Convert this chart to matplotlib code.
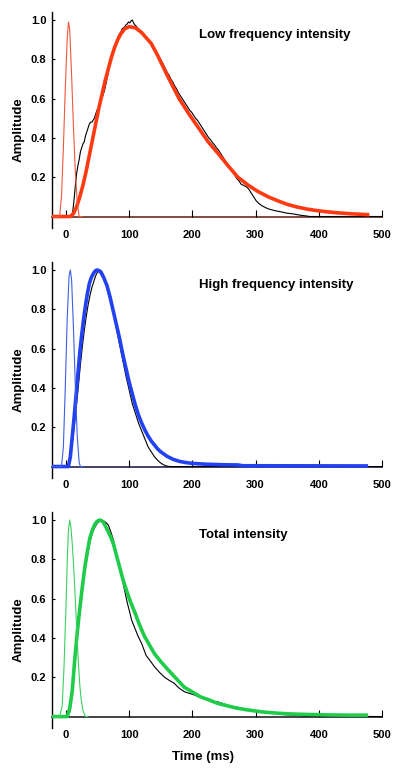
import matplotlib
matplotlib.use("Agg")
import matplotlib.pyplot as plt

plt.rcParams['font.family'] = ['Liberation Sans', 'DejaVu Sans']
plt.rcParams['font.weight'] = 'bold'

# ---------------- data (time in ms, normalised amplitude) ----------------
titles = ["Low frequency intensity", "High frequency intensity", "Total intensity"]
x_ticks = [0, 100, 200, 300, 400, 500]
y_ticks = [0.2, 0.4, 0.6, 0.8, 1.0]
y_tick_labels = ["0.2", "0.4", "0.6", "0.8", "1.0"]

# Panel 1 - low frequency
low_thin_t = [-22, -10, -7, -4, -1, 2, 4, 6, 9, 12, 15, 18, 21, 26]
low_thin_a = [0, 0, 0.10, 0.35, 0.65, 0.90, 0.99, 0.95, 0.72, 0.45, 0.22, 0.07, 0, 0]

low_fit_t = [-22, 7, 12, 17, 22, 27, 32, 37, 42, 47, 52, 57, 62, 67, 72, 77, 82, 87, 93, 100,
             110, 120, 135, 145, 160, 179, 195, 210, 225, 241, 256, 272, 288, 304, 320, 335,
             350, 366, 381, 397, 413, 429, 450, 480]
low_fit_a = [0, 0, 0.015, 0.05, 0.10, 0.16, 0.23, 0.31, 0.39, 0.47, 0.55, 0.62, 0.69, 0.75, 0.81,
             0.86, 0.90, 0.93, 0.955, 0.966, 0.96, 0.935, 0.88, 0.82, 0.72, 0.60, 0.52, 0.45,
             0.38, 0.32, 0.26, 0.20, 0.16, 0.127, 0.10, 0.08, 0.062, 0.048, 0.038, 0.03, 0.024,
             0.019, 0.014, 0.009]

low_data_t = [-22, 9, 11, 13, 15, 17, 19, 21, 23, 25, 27, 29, 31, 33, 35, 37, 39, 41, 43, 45, 47,
              49, 51, 53, 55, 57, 59, 61, 63, 65, 67, 69, 71, 73, 75, 77, 79, 81, 83, 85, 87, 89,
              91, 93, 95, 97, 99, 101, 103, 105, 107, 109, 111, 113, 115, 118, 121, 124, 127,
              130, 133, 136, 139, 142, 145, 148, 151, 154, 157, 160, 163, 166, 169, 172, 175,
              178, 181, 184, 187, 190, 193, 196, 199, 202, 205, 208, 211, 214, 217, 220, 223,
              226, 229, 232, 235, 238, 241, 244, 247, 250, 253, 256, 259, 262, 265, 268, 271,
              274, 277, 280, 283, 286, 289, 292, 295, 298, 301, 304, 307, 310, 314, 318, 322,
              326, 330, 335, 340, 345, 350, 355, 360, 365, 370, 375, 380, 386, 500]
low_data_a = [0, 0, 0.03, 0.09, 0.16, 0.22, 0.26, 0.29, 0.33, 0.35, 0.37, 0.38, 0.41, 0.43, 0.45,
              0.47, 0.48, 0.48, 0.49, 0.50, 0.52, 0.54, 0.55, 0.57, 0.59, 0.60, 0.62, 0.64, 0.67,
              0.70, 0.73, 0.77, 0.80, 0.83, 0.85, 0.87, 0.88, 0.90, 0.92, 0.93, 0.94, 0.955,
              0.96, 0.965, 0.975, 0.98, 0.99, 0.985, 0.995, 1.0, 0.985, 0.975, 0.97, 0.96, 0.955,
              0.94, 0.93, 0.92, 0.905, 0.895, 0.885, 0.87, 0.86, 0.845, 0.825, 0.81, 0.79,
              0.775, 0.755, 0.735, 0.72, 0.70, 0.685, 0.665, 0.65, 0.63, 0.615, 0.60, 0.585,
              0.57, 0.555, 0.54, 0.53, 0.515, 0.50, 0.49, 0.475, 0.46, 0.445, 0.43, 0.415, 0.40,
              0.39, 0.375, 0.365, 0.35, 0.34, 0.325, 0.31, 0.295, 0.28, 0.265, 0.25, 0.235,
              0.22, 0.205, 0.19, 0.18, 0.165, 0.16, 0.155, 0.15, 0.14, 0.125, 0.11, 0.095, 0.08,
              0.07, 0.062, 0.055, 0.048, 0.042, 0.037, 0.034, 0.03, 0.027, 0.024, 0.02, 0.017,
              0.015, 0.013, 0.01, 0.007, 0.005, 0.003, 0, 0]

# Panel 2 - high frequency
high_thin_t = [-22, -7, -4, -1, 2, 5, 7, 9, 12, 15, 18, 21, 23, 27]
high_thin_a = [0, 0, 0.10, 0.40, 0.75, 0.97, 1.0, 0.95, 0.70, 0.40, 0.15, 0.02, 0, 0]

high_fit_t = [-22, 4, 7, 10, 13, 16, 19, 22, 25, 28, 31, 34, 37, 40, 44, 47, 50, 55, 60, 65, 70,
              75, 80, 85, 90, 95, 100, 105, 110, 115, 120, 125, 130, 135, 140, 145, 150, 160,
              170, 180, 190, 200, 220, 250, 272, 280, 478]
high_fit_a = [0, 0, 0.05, 0.15, 0.25, 0.36, 0.47, 0.58, 0.67, 0.75, 0.82, 0.88, 0.93, 0.96,
              0.985, 0.997, 1.0, 0.99, 0.96, 0.92, 0.86, 0.79, 0.72, 0.65, 0.57, 0.50, 0.43,
              0.37, 0.31, 0.26, 0.22, 0.185, 0.155, 0.13, 0.11, 0.09, 0.075, 0.052, 0.036,
              0.026, 0.02, 0.016, 0.012, 0.009, 0.008, 0.004, 0.003]

high_data_t = [-22, 2, 5, 8, 11, 14, 17, 20, 23, 26, 29, 32, 35, 38, 41, 44, 47, 50, 52, 54, 56,
               58, 60, 65, 70, 75, 80, 85, 90, 95, 100, 105, 110, 115, 120, 125, 130, 135, 140,
               145, 150, 155, 160, 165, 500]
high_data_a = [0, 0, 0.02, 0.07, 0.14, 0.23, 0.32, 0.42, 0.52, 0.61, 0.69, 0.76, 0.82, 0.87,
               0.91, 0.94, 0.97, 0.99, 0.995, 1.0, 0.995, 0.985, 0.97, 0.92, 0.85, 0.78, 0.70,
               0.62, 0.54, 0.46, 0.39, 0.32, 0.27, 0.22, 0.18, 0.14, 0.10, 0.075, 0.05, 0.032,
               0.018, 0.008, 0.002, 0, 0]

# Panel 3 - total
total_thin_t = [-22, -10, -6, -3, 0, 2, 4, 6, 8, 10, 12, 14, 16, 18, 20, 22, 24, 27, 31, 35]
total_thin_a = [0, 0, 0.05, 0.25, 0.55, 0.78, 0.95, 1.0, 0.96, 0.88, 0.78, 0.65, 0.52, 0.38,
                0.26, 0.16, 0.09, 0.03, 0, 0]

total_fit_t = [-22, 2, 6, 10, 14, 18, 22, 26, 30, 34, 38, 42, 46, 50, 54, 59, 64, 70, 75, 80, 85,
               90, 96, 102, 109, 116, 124, 132, 140, 150, 161, 174, 187, 200, 213, 226, 239,
               255, 270, 285, 298, 315, 335, 350, 366, 390, 418, 450, 478]
total_fit_a = [0, 0, 0.04, 0.13, 0.29, 0.43, 0.55, 0.66, 0.76, 0.84, 0.91, 0.95, 0.98, 0.995,
               1.0, 0.99, 0.96, 0.92, 0.88, 0.82, 0.76, 0.70, 0.64, 0.585, 0.53, 0.47, 0.41,
               0.365, 0.32, 0.28, 0.24, 0.195, 0.15, 0.125, 0.10, 0.085, 0.068, 0.055, 0.043,
               0.035, 0.029, 0.022, 0.017, 0.014, 0.012, 0.01, 0.008, 0.007, 0.007]

total_data_t = [-22, 0, 2, 4, 6, 10, 14, 18, 22, 26, 30, 34, 38, 42, 46, 50, 54, 57, 60, 64, 67,
                71, 75, 78, 82, 85, 89, 93, 97, 101, 104, 109, 114, 120, 127, 133, 140, 148,
                156, 163, 171, 179, 187, 195, 203, 210, 218, 226, 234, 241, 248, 255, 262, 272,
                280, 288, 300, 314, 330, 345, 366, 380, 500]
total_data_a = [0, 0, 0.015, 0.015, 0.02, 0.11, 0.26, 0.40, 0.53, 0.64, 0.74, 0.82, 0.89,
                0.935, 0.965, 0.985, 0.995, 1.0, 0.995, 0.985, 0.975, 0.94, 0.90, 0.86, 0.80,
                0.77, 0.70, 0.64, 0.58, 0.53, 0.49, 0.45, 0.41, 0.37, 0.31, 0.285, 0.254, 0.225,
                0.20, 0.185, 0.17, 0.145, 0.127, 0.118, 0.11, 0.10, 0.093, 0.084, 0.076, 0.074,
                0.066, 0.059, 0.052, 0.047, 0.04, 0.034, 0.028, 0.022, 0.016, 0.01, 0.006,
                0.002, 0]

panels = [
    (low_thin_t, low_thin_a, low_fit_t, low_fit_a, low_data_t, low_data_a),
    (high_thin_t, high_thin_a, high_fit_t, high_fit_a, high_data_t, high_data_a),
    (total_thin_t, total_thin_a, total_fit_t, total_fit_a, total_data_t, total_data_a),
]
thick_colors = ["#ff3a12", "#2241f2", "#1fcc4a"]
thin_colors = ["#f0583c", "#3d5fe6", "#3ccf62"]
axis_colors = ["#5a1a12", "#101040", "#101010"]
bottoms = [0.7035, 0.3788, 0.0541]

fig = plt.figure(figsize=(4.0, 7.7), dpi=100)

for i, (tt, ta, ft, fa, dt, da) in enumerate(panels):
    ax = fig.add_axes([0.13, bottoms[i], 0.825, 0.2813])
    ax.plot(dt, da, color="black", lw=0.8, zorder=2)
    ax.plot(ft, fa, color=thick_colors[i], lw=2.6, solid_capstyle='butt', zorder=3)
    ax.plot(tt, ta, color=thin_colors[i], lw=0.8, zorder=4)

    ax.set_xlim(-22, 500)
    ax.set_ylim(-0.06, 1.042)
    ax.spines['top'].set_visible(False)
    ax.spines['right'].set_visible(False)
    ax.spines['bottom'].set_position(('data', 0))
    ax.spines['bottom'].set_color(axis_colors[i])
    ax.spines['bottom'].set_linewidth(1.1)
    ax.spines['bottom'].set_zorder(1.5)
    ax.spines['left'].set_linewidth(1.0)

    ax.set_xticks(x_ticks)
    ax.set_xticklabels([str(v) for v in x_ticks])
    ax.set_yticks(y_ticks)
    ax.set_yticklabels(y_tick_labels)
    ax.tick_params(axis='x', direction='in', length=5, width=0.8, pad=10, labelsize=8)
    ax.tick_params(axis='y', direction='in', length=2.5, width=0.8, pad=4, labelsize=8)
    for lab in ax.get_xticklabels() + ax.get_yticklabels():
        lab.set_fontweight('bold')

    ax.text(211, 0.924, titles[i], ha='left', va='center', fontsize=9.5, fontweight='bold')
    ax.text(-0.1, 0.454, "Amplitude", transform=ax.transAxes, rotation=90,
            ha='center', va='center', fontsize=9.5, fontweight='bold')

fig.text(203 / 400, 1 - 757 / 770, "Time (ms)", ha='center', va='center',
         fontsize=9.5, fontweight='bold')

fig.savefig("out.png", dpi=100)
